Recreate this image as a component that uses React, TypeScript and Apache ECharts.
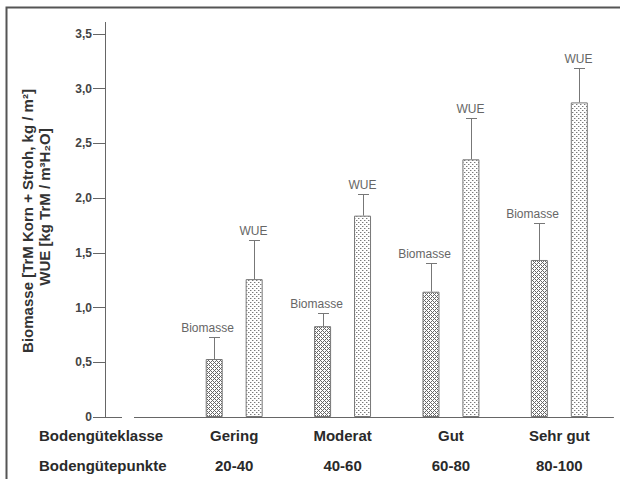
import React, { useEffect, useRef } from "react";
import * as echarts from "echarts";

const CLASSES = ["Gering", "Moderat", "Gut", "Sehr gut"];
const POINTS = ["20-40", "40-60", "60-80", "80-100"];
const BIOMASSE = [0.53, 0.83, 1.145, 1.435];
const BIOMASSE_ERR = [0.73, 0.95, 1.405, 1.77];
const WUE = [1.26, 1.84, 2.355, 2.875];
const WUE_ERR = [1.615, 2.04, 2.73, 3.19];
const Y_MIN = 0;
const Y_MAX = 3.5;
const Y_STEP = 0.5;

const FONT = "Liberation Sans, Arial, sans-serif";
const BAR_W = 17;
const BAR_GAP = 1.35;
const OFFSET = (BAR_W + BAR_W * BAR_GAP) / 2;

function crossPattern(): HTMLCanvasElement {
  const c = document.createElement("canvas");
  c.width = 4;
  c.height = 4;
  const ctx = c.getContext("2d")!;
  ctx.fillStyle = "#ffffff";
  ctx.fillRect(0, 0, 4, 4);
  ctx.fillStyle = "#666666";
  for (let x = 0; x < 4; x++) {
    for (let y = 0; y < 4; y++) {
      if ((x + y) % 4 === 0 || (x - y + 4) % 4 === 0) ctx.fillRect(x, y, 1, 1);
    }
  }
  return c;
}

function dotPattern(): HTMLCanvasElement {
  const c = document.createElement("canvas");
  c.width = 4;
  c.height = 4;
  const ctx = c.getContext("2d")!;
  ctx.fillStyle = "#ffffff";
  ctx.fillRect(0, 0, 4, 4);
  ctx.fillStyle = "#7a7a7a";
  ctx.fillRect(0, 0, 1, 1);
  ctx.fillRect(2, 2, 1, 1);
  ctx.fillStyle = "#c8c8c8";
  ctx.fillRect(1, 0, 1, 1);
  ctx.fillRect(3, 2, 1, 1);
  return c;
}

function errSeries(name: string, values: number[], errs: number[], side: number, dx: number) {
  return {
    type: "custom",
    name: name + "-err",
    z: 5,
    data: values.map((v, i) => [i, v, errs[i]]),
    encode: { x: 0, y: [1, 2] },
    renderItem: (params: any, api: any) => {
      const base = api.coord([api.value(0), api.value(1)]);
      const top = api.coord([api.value(0), api.value(2)]);
      const x = Math.round(base[0] + side * OFFSET) + 0.5;
      const ty = Math.round(top[1]) + 0.5;
      return {
        type: "group",
        children: [
          { type: "line", shape: { x1: x, y1: base[1], x2: x, y2: ty }, style: { stroke: "#777", lineWidth: 1 } },
          { type: "line", shape: { x1: x - 5.5, y1: ty, x2: x + 5.5, y2: ty }, style: { stroke: "#777", lineWidth: 1 } },
          {
            type: "text",
            x: x + dx,
            y: ty - 10,
            style: { text: name, fontSize: 12, fill: "#666", align: "center", verticalAlign: "middle", fontFamily: FONT },
          },
        ],
      };
    },
  };
}

export default function App() {
  const ref = useRef<HTMLDivElement>(null);
  useEffect(() => {
    if (!ref.current) return;
    const chart = echarts.init(ref.current, null, { renderer: "svg" });
    const lineStyle = { stroke: "#666", lineWidth: 1 };
    chart.setOption({
      animation: false,
      backgroundColor: "#ffffff",
      grid: { left: 180, right: 6.5, top: 34, bottom: 62 },
      xAxis: {
        type: "category",
        data: CLASSES,
        axisLine: { lineStyle: { color: "#666", width: 1 } },
        axisTick: { length: 15, lineStyle: { color: "#666" } },
        axisLabel: {
          margin: 3,
          formatter: (v: string, i: number) => `{a|${v}}\n{a|${POINTS[i]}}`,
          rich: { a: { fontSize: 15, fontWeight: "bold", color: "#2a2a2a", lineHeight: 30, fontFamily: FONT } },
        },
      },
      yAxis: {
        type: "value",
        min: Y_MIN,
        max: Y_MAX,
        interval: Y_STEP,
        offset: 75,
        axisLine: { show: true, lineStyle: { color: "#666", width: 1 } },
        axisTick: { show: true, length: 12, lineStyle: { color: "#666" } },
        axisLabel: {
          margin: 13,
          fontSize: 12,
          fontWeight: "bold",
          color: "#444",
          fontFamily: FONT,
          formatter: (v: number) => (v === 0 ? "0" : v.toFixed(1).replace(".", ",")),
        },
        splitLine: { show: false },
      },
      series: [
        {
          type: "bar",
          name: "Biomasse",
          data: BIOMASSE,
          barWidth: BAR_W,
          barGap: BAR_GAP * 100 + "%",
          itemStyle: { color: { image: crossPattern(), repeat: "repeat" }, borderColor: "#777", borderWidth: 1 },
        },
        {
          type: "bar",
          name: "WUE",
          data: WUE,
          barWidth: BAR_W,
          barGap: BAR_GAP * 100 + "%",
          itemStyle: { color: { image: dotPattern(), repeat: "repeat" }, borderColor: "#777", borderWidth: 1 },
        },
        errSeries("Biomasse", BIOMASSE, BIOMASSE_ERR, -1, -7),
        errSeries("WUE", WUE, WUE_ERR, 1, -1),
      ],
      graphic: [
        { type: "polyline", shape: { points: [[6.5, 479], [6.5, 7.5], [620, 7.5]] }, style: { stroke: "#555", lineWidth: 2, fill: null } },
        { type: "line", shape: { x1: 105, y1: 417.5, x2: 122, y2: 417.5 }, style: lineStyle },
        { type: "line", shape: { x1: 134, y1: 417.5, x2: 180, y2: 417.5 }, style: lineStyle },
        { type: "line", shape: { x1: 105.5, y1: 22, x2: 105.5, y2: 34 }, style: lineStyle },
        {
          type: "text", x: 39, y: 435,
          style: { text: "Bodengüteklasse", fontSize: 15, fontWeight: "bold", fill: "#2a2a2a", fontFamily: FONT, align: "left", verticalAlign: "middle" },
        },
        {
          type: "text", x: 39, y: 465,
          style: { text: "Bodengütepunkte", fontSize: 15, fontWeight: "bold", fill: "#2a2a2a", fontFamily: FONT, align: "left", verticalAlign: "middle" },
        },
        {
          type: "text", x: 27, y: 221, rotation: Math.PI / 2,
          style: { text: "Biomasse [TrM Korn + Stroh, kg / m²]", fontSize: 15, fontWeight: "bold", fill: "#333", fontFamily: FONT, align: "center", verticalAlign: "middle" },
        },
        {
          type: "text", x: 44, y: 207, rotation: Math.PI / 2,
          style: { text: "WUE [kg TrM / m³H₂O]", fontSize: 15, fontWeight: "bold", fill: "#333", fontFamily: FONT, align: "center", verticalAlign: "middle" },
        },
      ],
    });
    return () => chart.dispose();
  }, []);
  return <div ref={ref} style={{ position: "absolute", left: 0, top: 0, width: 620, height: 479 }} />;
}
